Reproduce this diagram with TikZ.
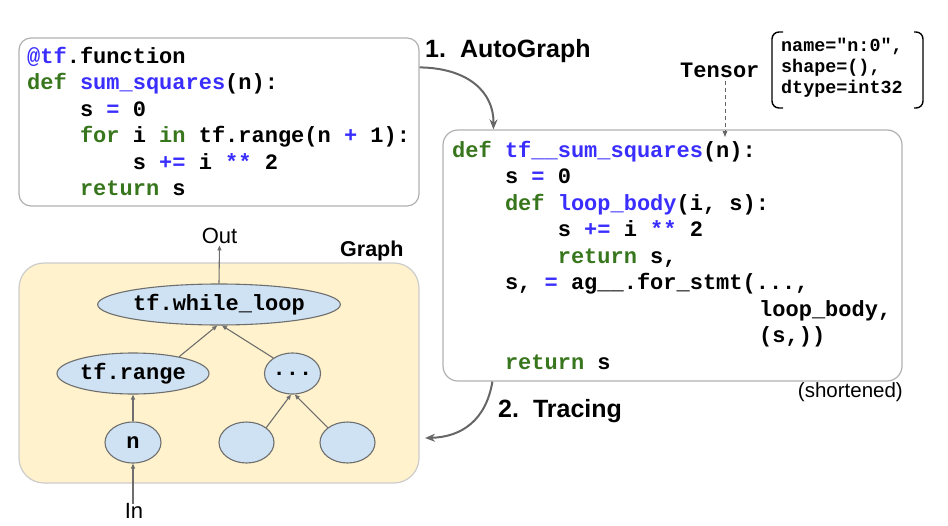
\documentclass[tikz,border=0pt]{standalone}
\usepackage{fontspec}
\setmainfont{Liberation Sans}
\newfontfamily\codefont{Liberation Mono}[WordSpace={1,0,0},PunctuationSpace=WordSpace]
\usetikzlibrary{arrows.meta,shapes.geometric,calc}
\definecolor{kwgreen}{RGB}{56,118,29}
\definecolor{fnblue}{RGB}{58,46,255}
\definecolor{boxgray}{RGB}{176,176,176}
\definecolor{flowgray}{RGB}{102,102,102}
\definecolor{edgegray}{RGB}{110,110,110}
\definecolor{nodeblue}{RGB}{207,226,243}
\definecolor{graphfill}{RGB}{255,242,204}
\definecolor{graphborder}{RGB}{204,204,204}
\newcommand\cgreen[1]{\textcolor{kwgreen}{#1}}
\newcommand\cblue[1]{\textcolor{fnblue}{#1}}
\begin{document}
\begin{tikzpicture}[x=1pt,y=-1pt,
  codebox/.style={draw=boxgray, line width=1.2pt, rounded corners=12pt, inner sep=0pt},
  code/.style={anchor=base west, inner sep=0pt, font={\fontsize{22}{26}\selectfont\codefont\bfseries\frenchspacing}},
  smallcode/.style={anchor=base west, inner sep=0pt, font={\fontsize{18.4}{22}\selectfont\codefont\bfseries\frenchspacing}},
  op/.style={ellipse, draw=edgegray, fill=nodeblue, line width=1.1pt, inner sep=0pt, minimum height=41pt, font={\fontsize{22}{26}\selectfont\codefont\bfseries}},
  gedge/.style={-{Triangle[length=5pt,width=4pt]}, draw=edgegray, line width=1.1pt},
  flow/.style={-{Stealth[length=10pt,width=8pt]}, draw=flowgray, line width=2pt},
  label/.style={inner sep=0pt, font={\fontsize{22}{26}\selectfont}},
  title/.style={anchor=base west, inner sep=0pt, font={\fontsize{25}{30}\selectfont\bfseries}}
]
\useasboundingbox (0,0) rectangle (948,525);

% ---- code box 1
\node[codebox, minimum width=400pt, minimum height=168pt] (box1) at (219,122) {};
\node[code] (c1a) at (27,63) {\cblue{@tf}.function};
\node[code] (c1b) at (27,89.5) {\cgreen{def} \cblue{sum\_squares}(n):};
\node[code] (c1c) at (79.8,116) {s \cblue{=} 0};
\node[code] (c1d) at (79.8,142.5) {\cgreen{for} i \cgreen{in} tf.range(n \cblue{+} 1):};
\node[code] (c1e) at (132.6,169) {s \cblue{+=} i \cblue{**} 2};
\node[code] (c1f) at (79.8,195.5) {\cgreen{return} s};

% ---- code box 2
\node[codebox, rounded corners=15pt, minimum width=459pt, minimum height=251pt] (box2) at (672.5,255.5) {};
\node[code] (c2a) at (452,157) {\cgreen{def} \cblue{tf\_\_sum\_squares}(n):};
\node[code] (c2b) at (504.8,183.5) {s \cblue{=} 0};
\node[code] (c2c) at (504.8,210) {\cgreen{def} \cblue{loop\_body}(i, s):};
\node[code] (c2d) at (557.6,236.5) {s \cblue{+=} i \cblue{**} 2};
\node[code] (c2e) at (557.6,263) {\cgreen{return} s,};
\node[code] (c2f) at (504.8,289.5) {s, \cblue{=} ag\_\_.for\_stmt(...,};
\node[code] (c2g) at (759,316) {loop\_body,};
\node[code] (c2h) at (759,342.5) {(s,))};
\node[code] (c2i) at (504.8,369) {\cgreen{return} s};

% ---- tensor annotation
\node[code] (tensor) at (680,77) {Tensor};
\node[smallcode] (t1) at (781,51) {name="n:0",};
\node[smallcode] (t2) at (781,72) {shape=(),};
\node[smallcode] (t3) at (781,93) {dtype=int32};
\draw[line width=1.4pt, rounded corners=7pt] (783,32) -- (772,32) -- (772,108) -- (783,108);
\draw[line width=1.4pt, rounded corners=7pt] (914,32) -- (923,32) -- (923,108) -- (914,108);
\coordinate (tin) at (725,137);
\draw[dash pattern=on 4pt off 3pt, draw=flowgray, line width=1pt, -{Triangle[length=6pt,width=4.5pt]}] ($(tensor.south -| tin)+(0,4)$) -- (tin);

% ---- titles
\node[title] (auto) at (425,57) {1.\hspace{14pt}AutoGraph};
\node[title] (trace) at (498,417) {2.\hspace{14pt}Tracing};
\node[anchor=base east, inner sep=0pt, font={\fontsize{20.5}{24}\selectfont}] (short) at (903,397) {(shortened)};

% ---- flow arrows
\coordinate (a1s) at ($(box1.north east)+(0,30)$);
\coordinate (a1e) at ($(box2.north west)+(51,0)$);
\draw[flow] (a1s) .. controls (468,68) and (494,92) .. (a1e);
\coordinate (a2s) at ($(box2.south west)+(50,0)$);
\coordinate (a2e) at (425,438);
\draw[flow] (a2s) .. controls (486,420) and (462,437) .. (a2e);

% ---- graph
\node[draw=graphborder, fill=graphfill, line width=1.2pt, rounded corners=25pt, minimum width=400pt, minimum height=220pt, inner sep=0pt] (graph) at (219,373) {};
\node[anchor=base west, inner sep=0pt, font={\fontsize{21.5}{26}\selectfont\bfseries}] (glabel) at (340,256) {Graph};

\node[op, minimum width=212pt] (while) at (219,304.5) {tf.while\_loop};
\node[op, minimum width=152pt] (range) at (133,373.5) {tf.range};
\node[op, minimum width=55pt] (dots) at (292.5,373.5) {...};
\node[op, minimum width=56pt] (n) at (133,442.5) {n};
\node[op, minimum width=55pt] (e1) at (246.5,442.5) {};
\node[op, minimum width=55pt] (e2) at (347.5,442.5) {};

\node[label, anchor=base] (out) at (219.5,243) {Out};
\node[label, anchor=base] (in) at (134,518) {In};

\draw[gedge] (while.north) -- ($(out.south)+(0,2)$);
\draw[gedge] ($(in.north)+(-1,1)$) -- (n.south);
\draw[gedge] (n.north) -- (range.south);
\draw[gedge] (range.20) -- (while.-95);
\draw[gedge] (dots.141) -- (while.-82);
\draw[gedge] (e1.37) -- (dots.-94);
\draw[gedge] (e2.143) -- (dots.-84);
\end{tikzpicture}
\end{document}
